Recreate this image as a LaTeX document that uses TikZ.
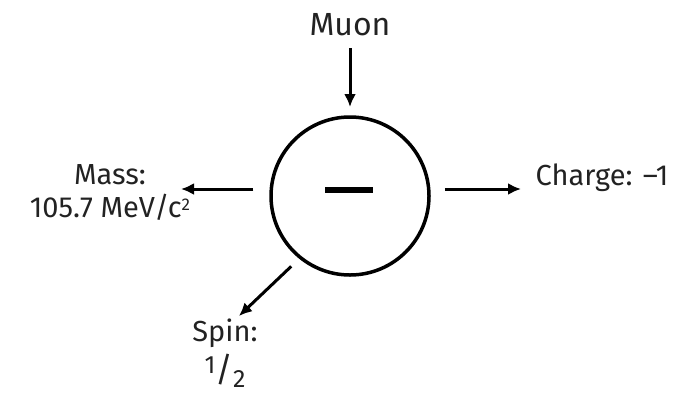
\documentclass[tikz,border=0pt]{standalone}
\usepackage{fontspec}
\setmainfont{Fira Sans}
\usetikzlibrary{arrows.meta, positioning, calc}
\definecolor{inkdark}{HTML}{222222}

\begin{document}
\begin{tikzpicture}[x=1pt,y=-1pt,
    lbl/.style={text=inkdark,font=\fontsize{29}{33}\selectfont,align=center,inner sep=0pt},
    arr/.style={-{Latex[length=13pt,width=12pt]},line width=3pt,black},
    circ/.style={circle,draw,line width=3.5pt,minimum size=158pt,inner sep=0pt}]
  \useasboundingbox (0,0) rectangle (676,394);
  % particle
  \node[circ] (muon) at (350,196) {};
  \node[fill=black,minimum width=48pt,minimum height=5.5pt,inner sep=0pt] (sign) at (349,190) {};
  % labels
  \node[lbl,font=\fontsize{32}{34}\selectfont] (name) at (350,25) {Muon};
  \node[lbl] (mass) at (110,193) {Mass:\\105.7 MeV/c\raisebox{7pt}{\fontsize{17}{17}\selectfont 2}};
  \node[lbl] (charge) at (602,178) {Charge: --1};
  \node[lbl] (spin) at (225,333) {Spin:};
  \node[lbl,below=6pt of spin] (spinval) {\raisebox{8pt}{\fontsize{25}{25}\selectfont 1}{\fontsize{34}{34}\selectfont/}\raisebox{-6pt}{\fontsize{25}{25}\selectfont 2}};
  % connectors
  \coordinate (name-end) at (350,107);
  \coordinate (mass-end) at (181,189);
  \coordinate (charge-end) at (521,189);
  \coordinate (spin-end) at (239,316);
  \draw[arr] (name.south) ++(0,12) -- (name-end);
  \draw[arr,shorten <=16pt] (muon.west |- mass-end) -- (mass-end);
  \draw[arr,shorten <=14pt] (muon.east |- charge-end) -- (charge-end);
  \draw[arr,shorten <=11pt] (muon.231) -- (spin-end);
\end{tikzpicture}
\end{document}
